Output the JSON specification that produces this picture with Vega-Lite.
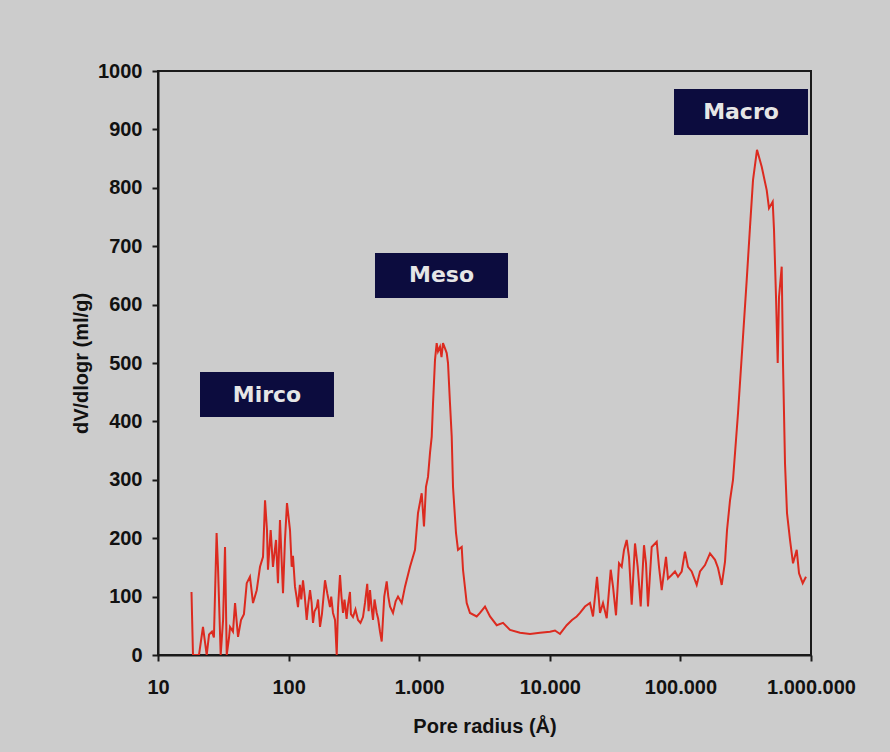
{
  "$schema": "https://vega.github.io/schema/vega-lite/v6.json",
  "width": 653,
  "height": 584,
  "autosize": {"type": "none"},
  "padding": {"left": 158, "top": 71, "right": 79, "bottom": 97},
  "background": "#cccccc",
  "config": {
    "font": "Liberation Sans",
    "view": {"stroke": "#1a1a1a", "strokeWidth": 2, "fill": "#cccccc"},
    "axis": {
      "grid": false,
      "domainColor": "#1a1a1a",
      "domainWidth": 2,
      "tickColor": "#1a1a1a",
      "tickWidth": 2,
      "tickSize": 6,
      "labelFont": "Liberation Sans",
      "labelFontSize": 20,
      "labelFontWeight": "bold",
      "labelColor": "#111111",
      "titleFont": "Liberation Sans",
      "titleFontSize": 20,
      "titleFontWeight": "bold",
      "titleColor": "#111111"
    }
  },
  "datasets": {
    "psd": [
      {"r": 18.05, "v": 108}, {"r": 18.53, "v": 0}, {"r": 20.6, "v": 0}, {"r": 22.1, "v": 48}, {"r": 23.6, "v": 0},
      {"r": 24.6, "v": 35}, {"r": 25.9, "v": 40}, {"r": 26.8, "v": 30}, {"r": 28.1, "v": 209}, {"r": 28.8, "v": 150},
      {"r": 30.2, "v": 0}, {"r": 31.5, "v": 60}, {"r": 32.6, "v": 185}, {"r": 33.6, "v": 0}, {"r": 35.0, "v": 30},
      {"r": 35.6, "v": 48}, {"r": 37.5, "v": 40}, {"r": 38.9, "v": 89}, {"r": 41.0, "v": 31}, {"r": 43.2, "v": 60},
      {"r": 45.5, "v": 70}, {"r": 47.8, "v": 123}, {"r": 50.6, "v": 134}, {"r": 53.4, "v": 89}, {"r": 57.0, "v": 111},
      {"r": 60.4, "v": 151}, {"r": 63.7, "v": 168}, {"r": 66.0, "v": 265}, {"r": 68.3, "v": 214}, {"r": 69.5, "v": 146},
      {"r": 72.9, "v": 214}, {"r": 75.9, "v": 151}, {"r": 80.1, "v": 197}, {"r": 82.9, "v": 123}, {"r": 85.9, "v": 231},
      {"r": 90.6, "v": 106}, {"r": 93.8, "v": 197}, {"r": 97.2, "v": 260}, {"r": 102.5, "v": 214}, {"r": 105.6, "v": 151},
      {"r": 108, "v": 170}, {"r": 111.9, "v": 117}, {"r": 115, "v": 100}, {"r": 118, "v": 82}, {"r": 122, "v": 120},
      {"r": 125, "v": 95}, {"r": 128.9, "v": 128}, {"r": 133, "v": 100}, {"r": 137.6, "v": 60}, {"r": 141, "v": 85},
      {"r": 145.9, "v": 111}, {"r": 150, "v": 90}, {"r": 153.8, "v": 55}, {"r": 158, "v": 75}, {"r": 164.2, "v": 82},
      {"r": 168, "v": 95}, {"r": 174, "v": 48}, {"r": 180, "v": 70}, {"r": 190, "v": 128}, {"r": 198, "v": 105},
      {"r": 207.5, "v": 82}, {"r": 212, "v": 100}, {"r": 218.8, "v": 72}, {"r": 226.7, "v": 60}, {"r": 233.6, "v": 0},
      {"r": 238.9, "v": 80}, {"r": 247.5, "v": 137}, {"r": 254, "v": 100}, {"r": 261, "v": 72}, {"r": 268, "v": 95},
      {"r": 278, "v": 62}, {"r": 285, "v": 86}, {"r": 295, "v": 108}, {"r": 300, "v": 70}, {"r": 311.2, "v": 65},
      {"r": 325, "v": 78}, {"r": 340, "v": 60}, {"r": 355, "v": 55}, {"r": 371.2, "v": 65}, {"r": 385, "v": 90},
      {"r": 400, "v": 122}, {"r": 410, "v": 75}, {"r": 420.1, "v": 111}, {"r": 430, "v": 85}, {"r": 442.9, "v": 60},
      {"r": 455, "v": 95}, {"r": 472.8, "v": 72}, {"r": 485, "v": 62}, {"r": 501, "v": 40}, {"r": 516.4, "v": 23},
      {"r": 540, "v": 100}, {"r": 563.9, "v": 126}, {"r": 580, "v": 100}, {"r": 597.6, "v": 83}, {"r": 630.1, "v": 72},
      {"r": 660, "v": 92}, {"r": 688.2, "v": 100}, {"r": 734.6, "v": 89}, {"r": 778.6, "v": 117}, {"r": 850.5, "v": 151},
      {"r": 928.7, "v": 180}, {"r": 979, "v": 243}, {"r": 1045, "v": 277},
      {"r": 1088, "v": 220}, {"r": 1127, "v": 288}, {"r": 1168, "v": 305}, {"r": 1210, "v": 346}, {"r": 1247, "v": 374},
      {"r": 1276, "v": 431}, {"r": 1321, "v": 505}, {"r": 1361, "v": 534}, {"r": 1393, "v": 520}, {"r": 1443, "v": 528},
      {"r": 1482, "v": 510}, {"r": 1521, "v": 534}, {"r": 1576, "v": 525}, {"r": 1624, "v": 517}, {"r": 1662, "v": 500},
      {"r": 1721, "v": 431}, {"r": 1774, "v": 374}, {"r": 1815, "v": 288}, {"r": 1913, "v": 209}, {"r": 1982, "v": 180},
      {"r": 2116, "v": 185}, {"r": 2165, "v": 146}, {"r": 2311, "v": 89}, {"r": 2449, "v": 72}, {"r": 2756, "v": 66},
      {"r": 2921, "v": 72}, {"r": 3191, "v": 83}, {"r": 3485, "v": 66}, {"r": 3922, "v": 51}, {"r": 4383, "v": 55},
      {"r": 4959, "v": 43}, {"r": 5913, "v": 38}, {"r": 7053, "v": 36}, {"r": 8414, "v": 38}, {"r": 10035, "v": 40},
      {"r": 10960, "v": 42}, {"r": 11970, "v": 36}, {"r": 13470, "v": 51}, {"r": 14790, "v": 60}, {"r": 16070, "v": 66},
      {"r": 17030, "v": 72}, {"r": 18600, "v": 83}, {"r": 20320, "v": 89}, {"r": 21420, "v": 66}, {"r": 22990, "v": 134},
      {"r": 24230, "v": 72}, {"r": 25550, "v": 89}, {"r": 27270, "v": 63}, {"r": 29270, "v": 146}, {"r": 30480, "v": 117},
      {"r": 32130, "v": 68}, {"r": 33880, "v": 157}, {"r": 35530, "v": 151}, {"r": 37000, "v": 180}, {"r": 38800, "v": 197},
      {"r": 40400, "v": 168}, {"r": 42380, "v": 86}, {"r": 44920, "v": 191}, {"r": 47100, "v": 151}, {"r": 49660, "v": 83},
      {"r": 52640, "v": 188}, {"r": 54530, "v": 157}, {"r": 56480, "v": 83}, {"r": 60290, "v": 185}, {"r": 65860, "v": 194},
      {"r": 68580, "v": 151}, {"r": 71930, "v": 111}, {"r": 77580, "v": 168}, {"r": 80350, "v": 131}, {"r": 85770, "v": 137},
      {"r": 90920, "v": 143}, {"r": 95850, "v": 134}, {"r": 102300, "v": 143}, {"r": 108400, "v": 177}, {"r": 114300, "v": 151},
      {"r": 122000, "v": 143}, {"r": 133300, "v": 120}, {"r": 141300, "v": 143}, {"r": 154300, "v": 154}, {"r": 168500, "v": 174},
      {"r": 184100, "v": 163}, {"r": 194100, "v": 149}, {"r": 207200, "v": 120}, {"r": 219600, "v": 160}, {"r": 227500, "v": 214},
      {"r": 239900, "v": 265}, {"r": 252800, "v": 300}, {"r": 276100, "v": 414}, {"r": 301600, "v": 545}, {"r": 321900, "v": 642},
      {"r": 341200, "v": 733}, {"r": 359700, "v": 813}, {"r": 386000, "v": 865}, {"r": 419400, "v": 836}, {"r": 458000, "v": 796},
      {"r": 476900, "v": 765}, {"r": 509000, "v": 776}, {"r": 520900, "v": 728}, {"r": 539600, "v": 613}, {"r": 555900, "v": 500},
      {"r": 568900, "v": 613}, {"r": 596600, "v": 665}, {"r": 610500, "v": 500}, {"r": 632400, "v": 328}, {"r": 655100, "v": 243},
      {"r": 690700, "v": 197}, {"r": 728200, "v": 157}, {"r": 777400, "v": 180}, {"r": 809600, "v": 140}, {"r": 864100, "v": 123},
      {"r": 915500, "v": 134}
    ],
    "labels": [
      {"name": "Mirco", "x1": 20.97, "x2": 222.6, "y1": 407.5, "y2": 484.6, "xc": 68.3, "yc": 446},
      {"name": "Meso", "x1": 458.7, "x2": 4786, "y1": 611.3, "y2": 688.4, "xc": 1482, "yc": 650},
      {"name": "Macro", "x1": 89330, "x2": 948400, "y1": 890.4, "y2": 969.2, "xc": 291100, "yc": 930}
    ]
  },
  "layer": [
    {
      "data": {"name": "psd"},
      "mark": {"type": "line", "color": "#dc2a1f", "strokeWidth": 2, "clip": true},
      "encoding": {
        "x": {
          "field": "r",
          "type": "quantitative",
          "scale": {"type": "log", "domain": [10, 1000000]},
          "axis": {
            "values": [10, 100, 1000, 10000, 100000, 1000000],
            "labelExpr": "replace(format(datum.value, ',.0f'), /,/g, '.')",
            "labelPadding": 16,
            "labelFlush": false,
            "title": "Pore radius (Å)",
            "titlePadding": 19
          }
        },
        "y": {
          "field": "v",
          "type": "quantitative",
          "scale": {"domain": [0, 1000], "nice": false},
          "axis": {
            "values": [0, 100, 200, 300, 400, 500, 600, 700, 800, 900, 1000],
            "format": "d",
            "labelPadding": 10,
            "title": "dV/dlogr (ml/g)",
            "titlePadding": 6
          }
        }
      }
    },
    {
      "data": {"name": "labels"},
      "mark": {"type": "rect", "color": "#0c0c3e"},
      "encoding": {
        "x": {"field": "x1", "type": "quantitative"},
        "x2": {"field": "x2"},
        "y": {"field": "y1", "type": "quantitative"},
        "y2": {"field": "y2"}
      }
    },
    {
      "data": {"name": "labels"},
      "mark": {"type": "text", "color": "#e6e6e6", "font": "DejaVu Sans", "fontWeight": "bold", "fontSize": 22, "align": "center", "baseline": "middle"},
      "encoding": {
        "x": {"field": "xc", "type": "quantitative"},
        "y": {"field": "yc", "type": "quantitative"},
        "text": {"field": "name"}
      }
    }
  ]
}
